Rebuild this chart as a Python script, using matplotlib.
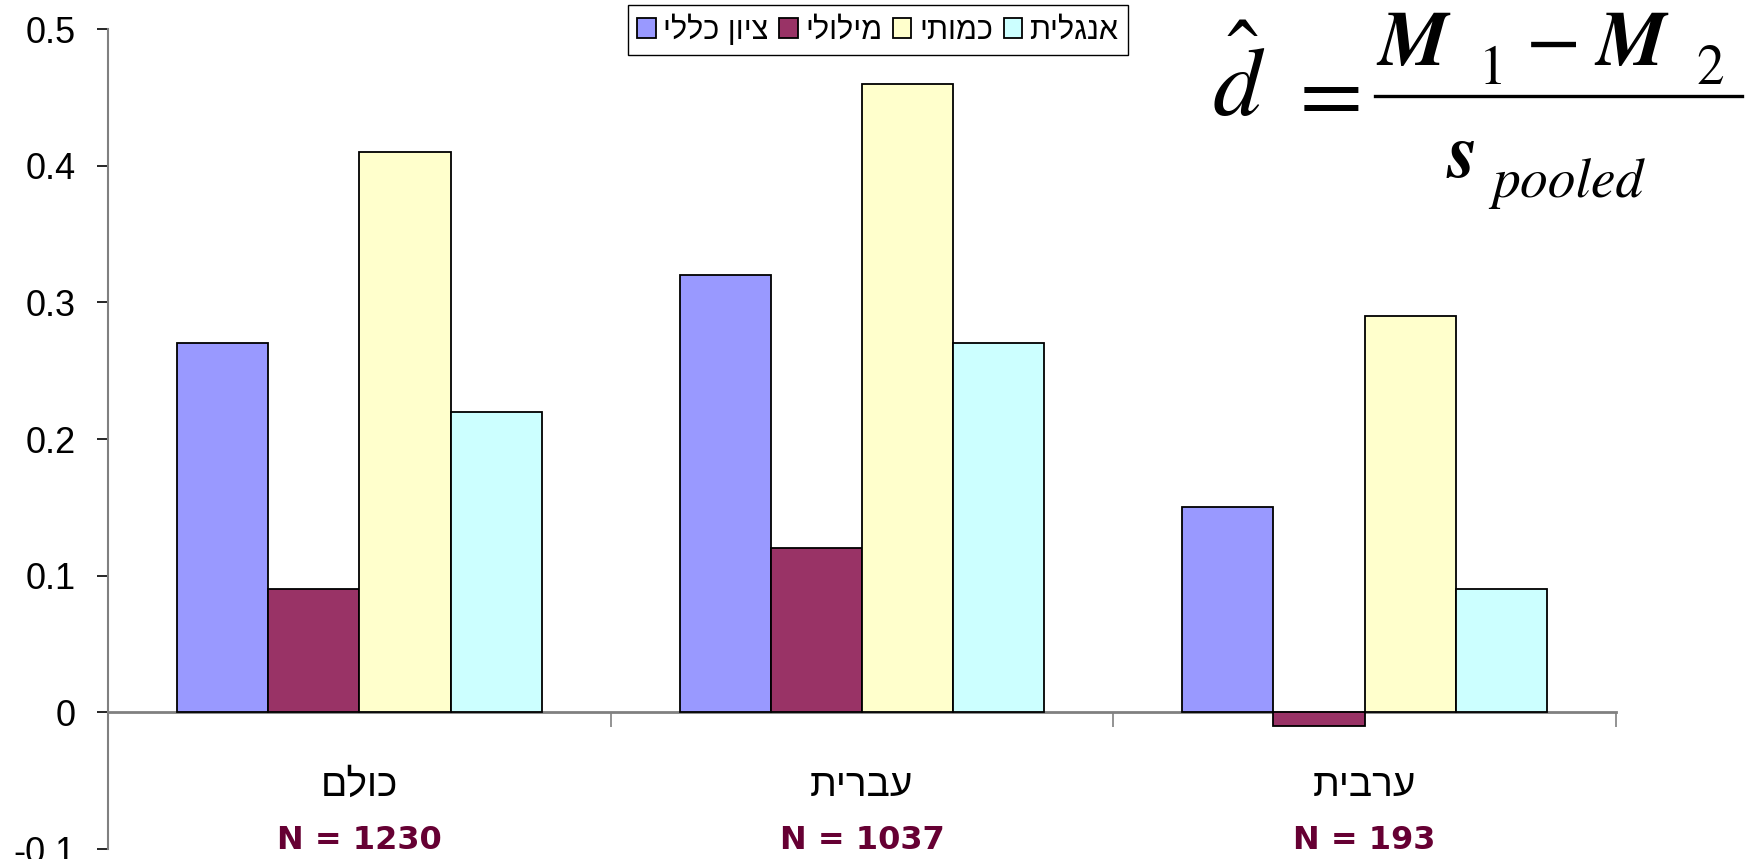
import matplotlib
matplotlib.use("Agg")
import matplotlib.pyplot as plt
from matplotlib.patches import Patch
from matplotlib.lines import Line2D
import numpy as np

# ---- data ----
groups = ["כולם", "עברית", "ערבית"]
group_n = ["N = 1230", "N = 1037", "N = 193"]
series_names = ["ציון כללי", "מילולי", "כמותי", "אנגלית"]
general = [0.27, 0.32, 0.15]
verbal = [0.09, 0.12, -0.01]
quant = [0.41, 0.46, 0.29]
english = [0.22, 0.27, 0.09]
yticks = [-0.1, 0.0, 0.1, 0.2, 0.3, 0.4, 0.5]
ytick_labels = ["-0.1", "0", "0.1", "0.2", "0.3", "0.4", "0.5"]

colors = ["#9999FF", "#993366", "#FFFFCC", "#CCFFFF"]

def rtl(s):
    return s[::-1]

plt.rcParams['font.family'] = ['Liberation Sans', 'DejaVu Sans']
plt.rcParams['mathtext.fontset'] = 'stix'

W, H = 1747, 859
fig = plt.figure(figsize=(W / 100, H / 100), dpi=100)
ax = fig.add_axes([0.0618, 0.0116, 0.925 - 0.0618, 0.966 - 0.0116])

x = np.arange(len(groups))
w = 0.1815
all_series = [general, verbal, quant, english]
for i, (vals, c) in enumerate(zip(all_series, colors)):
    ax.bar(x + (i - 1.5) * w, vals, width=w, color=c, edgecolor="black",
           linewidth=1.3, zorder=3)

ax.set_xlim(-0.5, 2.5)
ax.set_ylim(-0.1, 0.5)
ax.set_yticks(yticks)
ax.set_yticklabels(ytick_labels, fontsize=26)
ax.tick_params(axis='y', direction='out', length=8, width=1.2, color='black', pad=15)

ax.set_xticks([0.5, 1.5, 2.5])
ax.set_xticklabels([])
ax.tick_params(axis='x', direction='out', length=11, width=1.2, color='#808080')

for s in ["top", "right"]:
    ax.spines[s].set_visible(False)
ax.spines["left"].set_color("#808080")
ax.spines["left"].set_linewidth(1.5)
ax.spines["bottom"].set_position(("data", 0))
ax.spines["bottom"].set_color("#808080")
ax.spines["bottom"].set_linewidth(2.0)

for xi, g, n in zip(x, groups, group_n):
    ax.text(xi, -0.054, rtl(g), ha="center", va="center", fontsize=28,
            color="black", clip_on=False)
    ax.text(xi, -0.0934, n, ha="center", va="center", fontsize=23,
            fontweight="bold", family="DejaVu Sans", color="#660033",
            clip_on=False)

handles = [Patch(facecolor=c, edgecolor="black", linewidth=1.3) for c in colors]
leg = fig.legend(handles, [rtl(s) for s in series_names], loc="upper center",
                 bbox_to_anchor=(0.5025, 0.994), ncol=4, fontsize=22,
                 frameon=True, fancybox=False, framealpha=1,
                 edgecolor="black", handlelength=0.6, handleheight=0.6,
                 handletextpad=0.25, columnspacing=0.35, borderpad=0.3,
                 borderaxespad=0)
leg.get_frame().set_linewidth(1.0)

# ---- formula (annotation) ----
def fx(px):
    return px / W

def fy(py):
    return 1 - py / H

serif = 'STIXGeneral'
fig.text(fx(1212), fy(116), r"$\hat{d}$", fontsize=70, ha="left", va="baseline")
fig.text(fx(1323), fy(96), r"$=$", fontsize=66, ha="center", va="center")
fig.add_artist(Line2D([fx(1375), fx(1742)], [fy(96), fy(96)],
                      transform=fig.transFigure, color="black", linewidth=2.4))
fig.text(fx(1378), fy(65), "M", family=serif, style="italic", weight="bold",
         fontsize=56, ha="left", va="baseline")
fig.text(fx(1479), fy(84), "1", family=serif, fontsize=40, ha="left", va="baseline")
fig.text(fx(1553), fy(65), "\u2212", family=serif, fontsize=58, ha="center", va="baseline")
fig.text(fx(1596), fy(65), "M", family=serif, style="italic", weight="bold",
         fontsize=56, ha="left", va="baseline")
fig.text(fx(1696), fy(84), "2", family=serif, fontsize=40, ha="left", va="baseline")
fig.text(fx(1447), fy(177), "s", family=serif, style="italic", weight="bold",
         fontsize=56, ha="left", va="baseline")
fig.text(fx(1492), fy(197), "pooled", family=serif, style="italic",
         fontsize=40, ha="left", va="baseline")

fig.savefig("out.png", dpi=100)
